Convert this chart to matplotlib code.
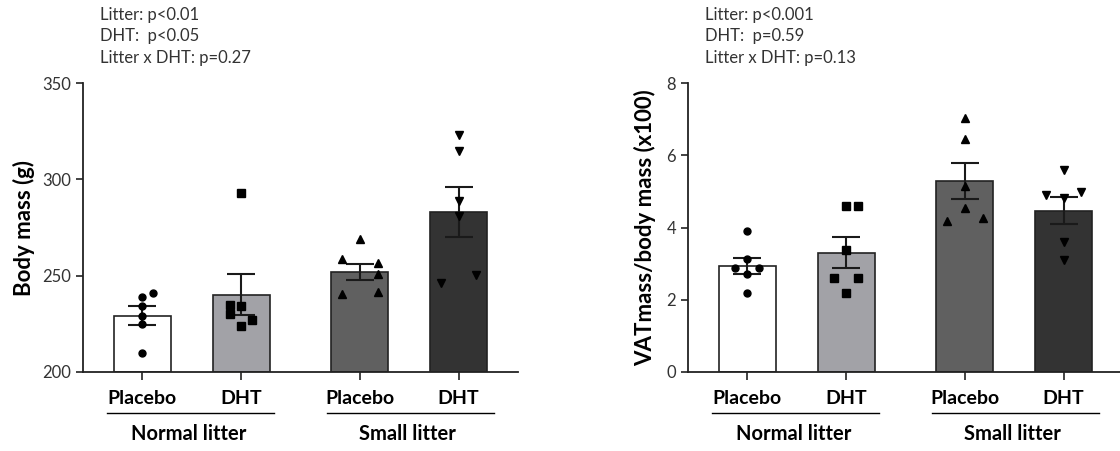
import numpy as np
import matplotlib
matplotlib.use("Agg")
import matplotlib.pyplot as plt
import matplotlib.transforms as mtransforms

plt.rcParams['font.family'] = ['Lato', 'DejaVu Sans']

# bar groups
conditions = ["Placebo", "DHT", "Placebo", "DHT"]
groups = ["Normal litter", "Small litter"]
bar_colors = ["#ffffff", "#a2a2a7", "#606060", "#333333"]
markers = ["o", "s", "^", "v"]

# body mass (g)
mass_mean = [229.3, 240.2, 251.8, 283.0]
mass_sem = [4.7, 10.6, 4.3, 12.9]
mass_points = [
    [210, 225, 229, 234, 239, 241],
    [293, 234.9, 234, 230, 226.9, 224],
    [268.9, 258.5, 256.8, 250.9, 240.6, 241.6],
    [322.9, 314.8, 288.7, 281, 246.4, 250.4],
]
mass_offsets = [
    [0, 0, 0, 0, 0, 0.11],
    [0, -0.11, 0, -0.11, 0.11, 0],
    [0, -0.18, 0.18, 0.18, -0.18, 0.18],
    [0, 0, 0, 0, -0.18, 0.18],
]
mass_stats = ["Litter: p<0.01", "DHT:  p<0.05", "Litter x DHT: p=0.27"]

# VAT mass / body mass (x100)
vat_mean = [2.93, 3.30, 5.28, 4.47]
vat_sem = [0.23, 0.43, 0.50, 0.38]
vat_points = [
    [3.89, 3.14, 2.88, 2.88, 2.70, 2.18],
    [4.59, 4.59, 3.39, 2.59, 2.59, 2.18],
    [7.04, 6.44, 5.15, 4.54, 4.17, 4.27],
    [5.59, 4.91, 4.99, 4.81, 3.60, 3.11],
]
vat_offsets = [
    [0, 0, -0.12, 0.12, 0, 0],
    [0, 0.12, 0, -0.12, 0.12, 0],
    [0, 0, 0, 0, -0.18, 0.18],
    [0, -0.18, 0.18, 0, 0, 0],
]
vat_stats = ["Litter: p<0.001", "DHT:  p=0.59", "Litter x DHT: p=0.13"]

x = np.array([0, 1, 2.2, 3.2])

fig = plt.figure(figsize=(11.2, 4.51), dpi=100)
W, H = 1120, 451
msizes = {"o": 5, "s": 5.2, "^": 6.3, "v": 6.3}


def panel(left_px, means, sems, points, offsets, ylim, yticks, ylabel, stats, ylab_x):
    ax = fig.add_axes([left_px / W, 1 - 372 / H, 435 / W, 289 / H])
    ax.bar(x, np.array(means) - ylim[0], bottom=ylim[0], width=0.58,
           color=bar_colors, edgecolor="#222222", linewidth=1.2, zorder=1)
    for i in range(4):
        ax.errorbar(x[i], means[i], yerr=sems[i], color="#1a1a1a", lw=1.5,
                    capsize=10, capthick=1.5, zorder=3)
        ax.plot(x[i] + np.array(offsets[i]), points[i], linestyle="none",
                marker=markers[i], color="black", ms=msizes[markers[i]],
                zorder=4, clip_on=False)
    ax.set_xlim(-0.6, 3.8)
    ax.set_ylim(*ylim)
    ax.set_yticks(yticks)
    ax.set_xticks(x)
    ax.set_xticklabels(conditions, fontsize=14, fontweight="bold")
    ax.tick_params(axis="x", length=6, width=1.2, pad=7, colors="#222222",
                   labelcolor="black")
    ax.tick_params(axis="y", length=5, width=1.2, labelsize=12, colors="#222222",
                   labelcolor="#333333")
    for s in ["top", "right"]:
        ax.spines[s].set_visible(False)
    for s in ["left", "bottom"]:
        ax.spines[s].set_linewidth(1.3)
        ax.spines[s].set_color("#222222")

    trans = mtransforms.blended_transform_factory(ax.transData, ax.transAxes)
    for lo, hi in [(-0.36, 1.33), (1.87, 3.56)]:
        ax.plot([lo, hi], [-0.142, -0.142], color="black", lw=1, transform=trans,
                clip_on=False)
    ax.text(0.47, -0.215, groups[0], transform=trans, ha="center", va="center",
            fontsize=14.5, fontweight="bold")
    ax.text(2.68, -0.215, groups[1], transform=trans, ha="center", va="center",
            fontsize=14.5, fontweight="bold")

    fig.text(ylab_x / W, 1 - 228 / H, ylabel, rotation=90, ha="center", va="center",
             fontsize=16, fontweight="bold")
    for k, t in enumerate(stats):
        fig.text((left_px + 17) / W, 1 - (15 + 21.5 * k) / H, t, ha="left",
                 va="center", fontsize=12, color="#333333")
    return ax


panel(83, mass_mean, mass_sem, mass_points, mass_offsets, (200, 350),
      [200, 250, 300, 350], "Body mass (g)", mass_stats, 24)
panel(688, vat_mean, vat_sem, vat_points, vat_offsets, (0, 8),
      [0, 2, 4, 6, 8], "VATmass/body mass (x100)", vat_stats, 645)

fig.savefig("out.png", dpi=100)
